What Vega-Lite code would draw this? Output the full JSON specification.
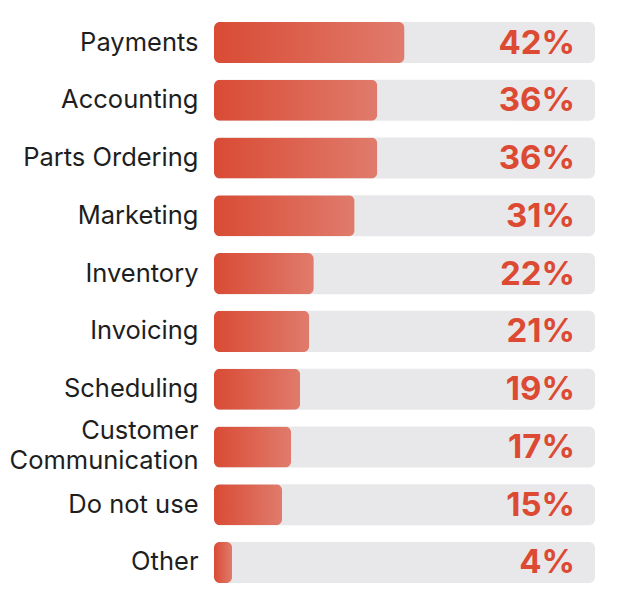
{
  "$schema": "https://vega.github.io/schema/vega-lite/v6.json",
  "width": 381,
  "height": 577,
  "autosize": {"type": "none"},
  "padding": {"left": 214, "top": 14, "right": 34, "bottom": 17},
  "background": "white",
  "config": {"view": {"stroke": null}, "font": "Inter"},
  "data": {
    "values": [
      {"feature": "Payments", "share": 0.42},
      {"feature": "Accounting", "share": 0.36},
      {"feature": "Parts Ordering", "share": 0.36},
      {"feature": "Marketing", "share": 0.31},
      {"feature": "Inventory", "share": 0.22},
      {"feature": "Invoicing", "share": 0.21},
      {"feature": "Scheduling", "share": 0.19},
      {"feature": "Customer Communication", "share": 0.17},
      {"feature": "Do not use", "share": 0.15},
      {"feature": "Other", "share": 0.04}
    ]
  },
  "encoding": {
    "y": {
      "field": "feature",
      "type": "nominal",
      "sort": null,
      "scale": {"paddingInner": 0.29, "paddingOuter": 0.14},
      "axis": {
        "title": null,
        "domain": false,
        "ticks": false,
        "labelFont": "Inter",
        "labelFontSize": 25.5,
        "labelFontWeight": 400,
        "labelColor": "#1e1e1e",
        "labelPadding": 16,
        "labelLineHeight": 30,
        "labelLimit": 400,
        "labelOffset": {"condition": {"test": "datum.label == 'Customer Communication'", "value": -16}, "value": 0},
        "labelExpr": "datum.label == 'Customer Communication' ? ['Customer', 'Communication'] : datum.label"
      }
    }
  },
  "layer": [
    {
      "mark": {"type": "bar", "color": "#e8e8ea", "cornerRadius": 6},
      "encoding": {
        "x": {"datum": 0, "type": "quantitative", "scale": {"domain": [0, 0.84]}, "axis": null},
        "x2": {"datum": 0.84}
      }
    },
    {
      "mark": {
        "type": "bar",
        "cornerRadius": 6,
        "color": {
          "gradient": "linear",
          "x1": 0, "y1": 0, "x2": 1, "y2": 0,
          "stops": [
            {"offset": 0, "color": "#d94b34"},
            {"offset": 1, "color": "#e07b6c"}
          ]
        }
      },
      "encoding": {
        "x": {"field": "share", "type": "quantitative", "scale": {"domain": [0, 0.84]}, "axis": null}
      }
    },
    {
      "mark": {
        "type": "text",
        "align": "right",
        "baseline": "middle",
        "dx": -20,
        "dy": 1,
        "font": "Inter",
        "fontSize": 33,
        "fontWeight": "bold",
        "color": "#dc4a34"
      },
      "encoding": {
        "x": {"datum": 0.84, "type": "quantitative", "scale": {"domain": [0, 0.84]}, "axis": null},
        "text": {"field": "share", "type": "quantitative", "format": ".0%"}
      }
    }
  ]
}
